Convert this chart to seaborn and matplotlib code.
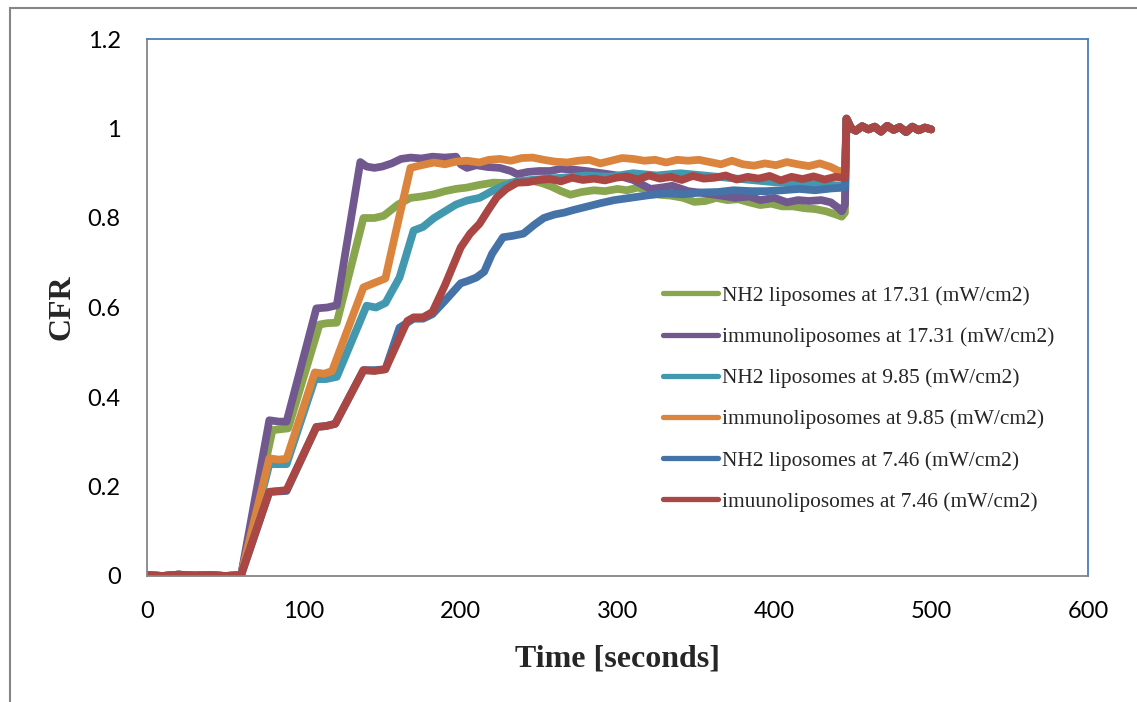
import matplotlib
matplotlib.use('Agg')
import pandas as pd
import matplotlib.pyplot as plt
import seaborn as sns
from matplotlib.patches import Rectangle

sns.set_style('white')
plt.rcParams['font.family'] = ['Lato', 'DejaVu Sans']

# Shared flat start and the common tail after the jump at ~445 s
t_start = [0, 10, 20, 30, 40, 50, 60]
cfr_start = [0.002, 0.0, 0.003, 0.001, 0.002, 0.0, 0.002]
t_tail = [446, 449, 452, 456, 460, 464, 468, 472, 476, 480, 484, 488, 492, 496, 500]
cfr_tail = [1.022, 1.0, 0.995, 1.005, 0.998, 1.004, 0.993, 1.006, 0.997, 1.003,
            0.992, 1.004, 0.996, 1.002, 0.998]

# NH2 liposomes at 17.31
t_nh2_1731 = [80, 90, 110, 115, 121, 138, 145, 151, 160, 168, 175, 183, 190, 197, 204,
              212, 221, 230, 238, 246, 252, 258, 264, 270, 277, 285, 292, 300, 306, 313,
              320, 327, 334, 342, 349, 356, 363, 370, 377, 384, 391, 398, 405, 412, 419,
              426, 433, 440, 443, 445]
cfr_nh2_1731 = [0.326, 0.33, 0.562, 0.565, 0.566, 0.80, 0.80, 0.805, 0.83, 0.845, 0.848,
                0.853, 0.86, 0.865, 0.868, 0.874, 0.879, 0.878, 0.882, 0.883, 0.878, 0.87,
                0.86, 0.852, 0.858, 0.862, 0.86, 0.865, 0.862, 0.868, 0.862, 0.852, 0.85,
                0.845, 0.836, 0.838, 0.845, 0.84, 0.842, 0.835, 0.829, 0.832, 0.826, 0.826,
                0.822, 0.82, 0.815, 0.807, 0.803, 0.812]

# immunoliposomes at 17.31
t_imm_1731 = [78, 84, 89, 108, 115, 121, 136, 140, 145, 150, 156, 162, 168, 175, 182,
              190, 197, 200, 204, 210, 217, 225, 232, 236, 243, 250, 257, 264, 272, 280,
              290, 300, 310, 321, 328, 335, 345, 356, 366, 375, 384, 391, 400, 408, 415,
              422, 430, 436, 441, 443, 445]
cfr_imm_1731 = [0.348, 0.345, 0.345, 0.598, 0.60, 0.605, 0.925, 0.915, 0.912, 0.915,
                0.922, 0.932, 0.935, 0.933, 0.937, 0.935, 0.937, 0.92, 0.912, 0.918,
                0.914, 0.912, 0.905, 0.898, 0.903, 0.905, 0.905, 0.91, 0.908, 0.905, 0.90,
                0.895, 0.885, 0.865, 0.868, 0.872, 0.86, 0.855, 0.85, 0.845, 0.848, 0.84,
                0.845, 0.835, 0.84, 0.838, 0.84, 0.835, 0.822, 0.815, 0.83]

# NH2 liposomes at 9.85
t_nh2_985 = [78, 89, 107, 114, 121, 140, 146, 152, 161, 170, 176, 183, 190, 197, 204,
             212, 221, 228, 236, 245, 255, 265, 280, 295, 310, 325, 340, 355, 370, 385,
             400, 415, 430, 445]
cfr_nh2_985 = [0.25, 0.25, 0.44, 0.44, 0.445, 0.604, 0.60, 0.61, 0.667, 0.772, 0.78,
               0.80, 0.815, 0.83, 0.839, 0.845, 0.862, 0.873, 0.882, 0.885, 0.888, 0.89,
               0.895, 0.892, 0.90, 0.895, 0.90, 0.895, 0.89, 0.885, 0.88, 0.878, 0.875,
               0.872]

# immunoliposomes at 9.85
t_imm_985 = [78, 84, 89, 107, 113, 118, 138, 145, 152, 160, 168, 175, 183, 190, 197,
             204, 212, 218, 225, 232, 239, 246, 253, 260, 268, 275, 282, 289, 296, 303,
             310, 317, 324, 331, 338, 345, 352, 359, 366, 373, 380, 387, 394, 401, 408,
             415, 422, 429, 436, 441, 445]
cfr_imm_985 = [0.263, 0.26, 0.262, 0.455, 0.452, 0.458, 0.645, 0.655, 0.665, 0.79, 0.912,
               0.918, 0.924, 0.92, 0.926, 0.928, 0.924, 0.93, 0.932, 0.928, 0.934, 0.935,
               0.93, 0.926, 0.924, 0.928, 0.93, 0.922, 0.928, 0.934, 0.932, 0.928, 0.93,
               0.924, 0.93, 0.928, 0.93, 0.925, 0.92, 0.928, 0.92, 0.917, 0.922, 0.918,
               0.925, 0.92, 0.916, 0.922, 0.914, 0.905, 0.905]

# NH2 liposomes at 7.46
t_nh2_746 = [78, 89, 108, 114, 120, 138, 145, 152, 161, 170, 176, 182, 190, 200, 205,
             210, 215, 220, 227, 233, 240, 247, 253, 260, 266, 272, 280, 289, 298, 310,
             320, 331, 342, 353, 364, 374, 385, 395, 405, 416, 426, 436, 445]
cfr_nh2_746 = [0.188, 0.19, 0.333, 0.335, 0.34, 0.46, 0.46, 0.462, 0.555, 0.575, 0.575,
               0.585, 0.615, 0.654, 0.66, 0.667, 0.68, 0.72, 0.757, 0.76, 0.765, 0.785,
               0.80, 0.808, 0.812, 0.818, 0.825, 0.833, 0.84, 0.846, 0.851, 0.855, 0.853,
               0.857, 0.858, 0.862, 0.86, 0.86, 0.862, 0.865, 0.862, 0.866, 0.868]

# imuunoliposomes at 7.46
t_imm_746 = [78, 84, 89, 108, 114, 120, 138, 145, 152, 166, 170, 176, 182, 190, 200,
             206, 212, 218, 223, 229, 236, 243, 250, 257, 264, 271, 278, 285, 292, 299,
             306, 313, 320, 327, 334, 341, 348, 355, 362, 369, 376, 383, 390, 397, 404,
             411, 418, 425, 432, 439, 445]
cfr_imm_746 = [0.188, 0.19, 0.192, 0.333, 0.335, 0.34, 0.46, 0.458, 0.462, 0.57, 0.578,
               0.578, 0.59, 0.65, 0.734, 0.765, 0.787, 0.82, 0.846, 0.865, 0.879, 0.88,
               0.885, 0.887, 0.882, 0.89, 0.885, 0.888, 0.884, 0.89, 0.893, 0.886, 0.895,
               0.888, 0.892, 0.885, 0.894, 0.888, 0.89, 0.895, 0.886, 0.892, 0.888, 0.894,
               0.884, 0.892, 0.887, 0.893, 0.886, 0.892, 0.889]

labels = ['NH2 liposomes at 17.31 (mW/cm2)',
          'immunoliposomes at 17.31 (mW/cm2)',
          'NH2 liposomes at 9.85 (mW/cm2)',
          'immunoliposomes at 9.85 (mW/cm2)',
          'NH2 liposomes at 7.46 (mW/cm2)',
          'imuunoliposomes at 7.46 (mW/cm2)']
colors = ['#89A54E', '#71588F', '#4198AF', '#DB843D', '#4572A7', '#AA4643']

series = [(t_nh2_1731, cfr_nh2_1731), (t_imm_1731, cfr_imm_1731),
          (t_nh2_985, cfr_nh2_985), (t_imm_985, cfr_imm_985),
          (t_nh2_746, cfr_nh2_746), (t_imm_746, cfr_imm_746)]

frames = []
for lab, (t, v) in zip(labels, series):
    frames.append(pd.DataFrame({'Time': t_start + t + t_tail,
                                'CFR': cfr_start + v + cfr_tail,
                                'Series': lab}))
df = pd.concat(frames, ignore_index=True)

fig = plt.figure(figsize=(11.37, 7.02), dpi=100)
ax = fig.add_axes([147 / 1137, 1 - 576 / 702, 941 / 1137, 537 / 702])

sns.lineplot(data=df, x='Time', y='CFR', hue='Series', hue_order=labels,
             palette=colors, estimator=None, sort=False, linewidth=5.6,
             solid_capstyle='round', solid_joinstyle='round', ax=ax)

ax.set_xlim(0, 600)
ax.set_ylim(0, 1.2)
ax.set_xticks([0, 100, 200, 300, 400, 500, 600])
ax.set_yticks([0, 0.2, 0.4, 0.6, 0.8, 1.0, 1.2])
ax.set_yticklabels(['0', '0.2', '0.4', '0.6', '0.8', '1', '1.2'])
ax.tick_params(axis='both', direction='out', length=6, width=1, color='#868686',
               labelsize=17, labelcolor='black')
ax.tick_params(axis='x', pad=12)
ax.tick_params(axis='y', pad=13)

for side in ['left', 'bottom']:
    ax.spines[side].set_color('#868686')
    ax.spines[side].set_linewidth(1.3)
for side in ['top', 'right']:
    ax.spines[side].set_color('#4A7EBB')
    ax.spines[side].set_linewidth(1.3)

serif = ['Liberation Serif', 'DejaVu Serif']
ax.set_xlabel('Time [seconds]', fontsize=23, fontweight='bold', family=serif)
ax.set_ylabel('CFR', fontsize=23, fontweight='bold', family=serif)
ax.xaxis.set_label_coords(0.5, -0.127)
ax.yaxis.set_label_coords(-0.075, 0.5)

leg = ax.legend(loc='upper left', bbox_to_anchor=(663 / 1137, 1 - 286 / 702),
                bbox_transform=fig.transFigure, frameon=False, borderpad=0,
                borderaxespad=0, handlelength=2.55, handletextpad=0.2,
                labelspacing=0.99, prop={'family': serif, 'size': 15.4})
for line in leg.get_lines():
    line.set_linewidth(3.8)
    line.set_solid_capstyle('round')

# outer chart frame (extends past right and bottom edges)
fig.patches.append(Rectangle((10 / 1137, -0.2), 1.2, 1.2 - 8 / 702,
                             transform=fig.transFigure, fill=False,
                             edgecolor='#868686', linewidth=1.5))

fig.savefig('out.png', dpi=100)
